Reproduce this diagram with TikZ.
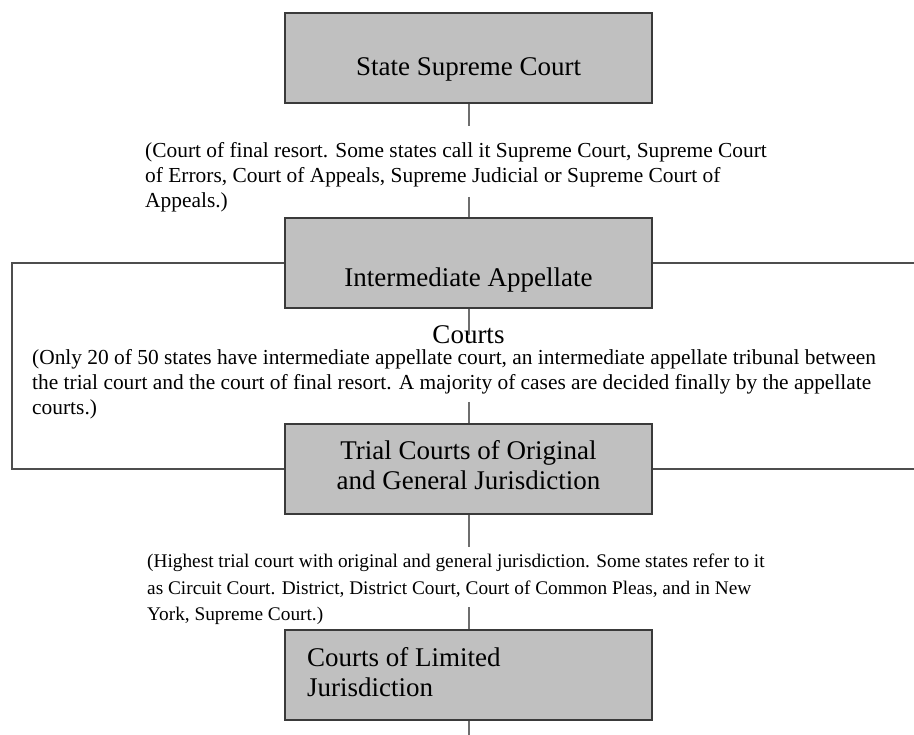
\documentclass[tikz,border=0pt]{standalone}
\usepackage{fontspec}
\setmainfont{Liberation Serif}
\definecolor{boxgray}{HTML}{C0C0C0}
\definecolor{edgegray}{HTML}{3A3A3A}
\definecolor{linkgray}{HTML}{6E6E6E}
\begin{document}
\begin{tikzpicture}[x=1pt, y=-1pt,
    courtbox/.style={draw=edgegray, fill=boxgray, line width=1.6pt,
        minimum width=367pt, minimum height=90pt, inner sep=0pt},
    boxtext/.style={font=\fontsize{27}{30}\selectfont, inner sep=0pt, align=center},
    note/.style={font=\fontsize{21.4}{25}\selectfont, inner sep=0pt, align=left, anchor=north west},
    link/.style={draw=linkgray, line width=2pt},
    frame/.style={draw=edgegray!90, line width=1.8pt}]
    \useasboundingbox (0,0) rectangle (914,735);

    % the four court boxes
    \node[courtbox] (supreme) at (468.5,58) {};
    \node[courtbox] (appellate) at (468.5,263) {};
    \node[courtbox] (trial) at (468.5,469) {};
    \node[courtbox] (limited) at (468.5,675) {};

    % free ends of the connectors
    \coordinate (sa) at (468.5,126);
    \coordinate (sb) at (468.5,197);
    \coordinate (aa) at (468.5,335);
    \coordinate (ab) at (468.5,402);
    \coordinate (ta) at (468.5,547);
    \coordinate (tb) at (468.5,607);
    \coordinate (la) at (468.5,735);

    % connectors between the levels
    \draw[link] (supreme.south) -- (sa);
    \draw[link] (sb) -- (appellate.north);
    \draw[link] (appellate.south) -- (aa);
    \draw[link] (ab) -- (trial.north);
    \draw[link] (trial.south) -- (ta);
    \draw[link] (tb) -- (limited.north);
    \draw[link] (limited.south) -- (la);

    % frame round the appellate level
    \coordinate (lt) at (12,263);
    \coordinate (lb) at (12,469);
    \coordinate (rt) at (914,263);
    \coordinate (rb) at (914,469);
    \draw[frame] (appellate.west) -- (lt) -- (lb) -- (trial.west);
    \draw[frame] (appellate.east) -- (rt);
    \draw[frame] (trial.east) -- (rb);

    % box texts
    \node[boxtext, anchor=base] (supremetext) at (468.5,76) {State Supreme Court};
    \node[boxtext, anchor=north] (appellatetext) at (468.5,268) {Intermediate Appellate\\[27pt]Courts};
    \node[boxtext, anchor=north] (trialtext) at (468.5,440) {Trial Courts of Original\\and General Jurisdiction};
    \node[boxtext, align=left, anchor=north west] (limitedtext) at (307,647) {Courts of Limited\\Jurisdiction};

    % notes between the levels
    \node[note] (finalnote) at (145,142) {(Court of final resort. Some states call it Supreme Court, Supreme Court\\of Errors, Court of Appeals, Supreme Judicial or Supreme Court of\\Appeals.)};
    \node[note] (appellatenote) at (32,349) {(Only 20 of 50 states have intermediate appellate court, an intermediate appellate tribunal between\\the trial court and the court of final resort. A majority of cases are decided finally by the appellate\\courts.)};
    \node[note, font=\fontsize{19.3}{26.5}\selectfont] (trialnote) at (147,554) {(Highest trial court with original and general jurisdiction. Some states refer to it\\as Circuit Court. District, District Court, Court of Common Pleas, and in New\\York, Supreme Court.)};
\end{tikzpicture}
\end{document}
